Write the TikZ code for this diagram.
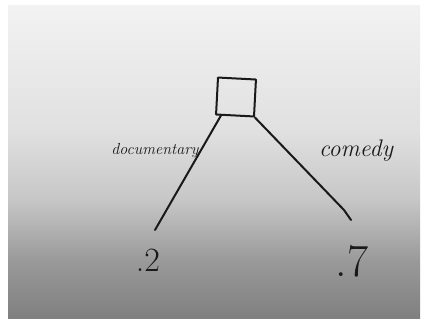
\documentclass[tikz,border=0pt]{standalone}
\usepackage{fontspec}
\pgfdeclareverticalshading{paper}{100bp}{
  color(0bp)=(black!50); color(25bp)=(black!50); color(34bp)=(black!40);
  color(44bp)=(black!22); color(55bp)=(black!12); color(75bp)=(black!5);
  color(100bp)=(black!5)}
\begin{document}
\begin{tikzpicture}[x=1pt,y=-1pt,
  ink/.style={draw=black!90, line width=2pt, line cap=round, line join=round},
  lbl/.style={text=black!90, inner sep=0pt},
  val/.style={text=black!90, inner sep=0pt}]
\useasboundingbox (0,0) rectangle (428,324);
\fill[white] (0,0) rectangle (428,324);
\shade[shading=paper] (8,5) rectangle (420,318);
\node[ink, rectangle, minimum width=38pt, minimum height=37pt, rotate=-3] (root) at (236,97) {};
\coordinate (l) at (155,230);
\coordinate (r) at (351,220);
\draw[ink] (root.south west) ++(6,0) -- (l);
\draw[ink] (root.south east) -- (344,210) -- (r);
\node[lbl, font=\itshape\fontsize{16}{18}\selectfont] (doc) at (155,151) {documentary};
\node[lbl, font=\itshape\fontsize{24}{26}\selectfont] (com) at (356,151) {comedy};
\node[val, font=\fontsize{34}{38}\selectfont] (v2) at (148,260) {.2};
\node[val, font=\fontsize{46}{50}\selectfont] (v7) at (352,261) {.7};
\end{tikzpicture}
\end{document}
